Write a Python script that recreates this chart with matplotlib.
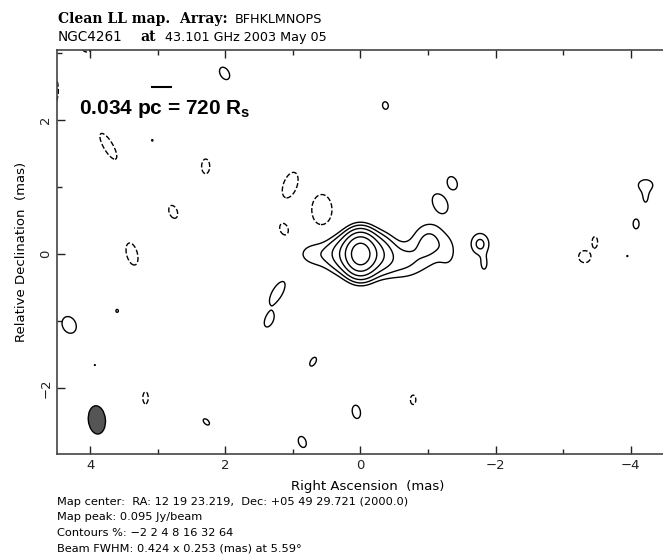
import numpy as np
import matplotlib
matplotlib.use("Agg")
import matplotlib.pyplot as plt
from matplotlib.patches import Ellipse
from matplotlib.ticker import MultipleLocator

plt.rcParams["font.family"] = ["DejaVu Sans"]
plt.rcParams["mathtext.fontset"] = "custom"
plt.rcParams["mathtext.rm"] = "Liberation Sans"
plt.rcParams["mathtext.bf"] = "Liberation Sans:bold"

# source model components (mas, relative flux)
# x = RA offset, y = Dec offset, sx/sy = widths, rot = tilt on the page (deg)
core_x = [0.0, -0.25, 0.25, 0.60, -0.60, -1.02, -1.30]
core_y = [0.0, 0.0, 0.0, 0.0, -0.10, 0.18, 0.02]
core_amp = [1.0, 0.15, 0.10, 0.035, 0.05, 0.05, 0.022]
core_sx = [0.13, 0.15, 0.15, 0.25, 0.25, 0.17, 0.10]
core_sy = [0.17, 0.17, 0.17, 0.15, 0.18, 0.20, 0.18]
core_rot = [0, 0, 0, 0, 0, 0, 0]

# weak positive patches (solid contours)
pos_x = [2.01, -0.37, 3.08, -1.36, -1.18, -1.77, -1.83, -4.22, -4.22, -4.08,
         -3.95, 1.23, 1.35, 0.70, 3.60, 4.31, 3.93, 0.06, 2.28, 0.86]
pos_y = [2.70, 2.22, 1.70, 1.06, 0.76, 0.15, -0.15, 1.03, 0.83, 0.45,
         -0.03, -0.58, -0.99, -1.61, -0.85, -1.06, -1.66, -2.36, -2.51, -2.81]
pos_amp = [0.035, 0.033, 0.024, 0.035, 0.035, 0.05, 0.028, 0.031, 0.024, 0.034,
           0.025, 0.035, 0.034, 0.034, 0.026, 0.035, 0.024, 0.035, 0.033, 0.035]
pos_sx = [0.065, 0.045, 0.02, 0.07, 0.10, 0.10, 0.05, 0.12, 0.05, 0.045,
          0.015, 0.075, 0.06, 0.04, 0.03, 0.10, 0.015, 0.06, 0.035, 0.055]
pos_sy = [0.10, 0.06, 0.025, 0.10, 0.15, 0.12, 0.10, 0.09, 0.10, 0.075,
          0.015, 0.19, 0.11, 0.075, 0.035, 0.13, 0.015, 0.10, 0.06, 0.085]
pos_rot = [30, 10, 0, 20, 30, 0, 0, 0, 0, 0,
           0, -30, -25, -30, 0, 25, 0, 10, 45, 20]

# weak negative patches (dashed contours)
neg_x = [3.73, 2.29, 2.77, 3.38, 1.04, 0.57, 1.13, 3.18, -0.78, -3.32, -3.47, 4.62, 4.05]
neg_y = [1.61, 1.31, 0.63, 0.00, 1.03, 0.66, 0.37, -2.15, -2.18, -0.04, 0.18, 2.45, 3.12]
neg_amp = [-0.035] * 13
neg_sx = [0.07, 0.06, 0.06, 0.08, 0.10, 0.15, 0.06, 0.04, 0.04, 0.09, 0.04, 0.15, 0.08]
neg_sy = [0.22, 0.11, 0.10, 0.17, 0.20, 0.23, 0.09, 0.09, 0.07, 0.09, 0.08, 0.30, 0.10]
neg_rot = [30, 0, 20, 15, -20, 0, 20, 0, 0, 0, 0, 0, 0]

levels = [-2, 2, 4, 8, 16, 32, 64]

beam_major = 0.424
beam_minor = 0.253
beam_pa = 5.59
beam_pos = (3.90, -2.48)

scale_x = [3.08, 2.81]
scale_y = [2.49, 2.49]

xs = np.arange(4.7, -4.9, -0.008)
ys = np.arange(-3.1, 3.2, 0.008)
X, Y = np.meshgrid(xs, ys)
img = np.zeros_like(X)

for cx, cy, a, sx, sy, r in zip(core_x + pos_x + neg_x, core_y + pos_y + neg_y,
                                core_amp + pos_amp + neg_amp,
                                core_sx + pos_sx + neg_sx, core_sy + pos_sy + neg_sy,
                                core_rot + pos_rot + neg_rot):
    t = np.radians(r)
    u = -(X - cx)
    v = Y - cy
    up = u * np.cos(t) + v * np.sin(t)
    vp = -u * np.sin(t) + v * np.cos(t)
    img += a * np.exp(-0.5 * ((up / sx) ** 2 + (vp / sy) ** 2))

img = img / img.max() * 100

fig = plt.figure(figsize=(6.63, 5.56), dpi=100)
# frame runs past the right edge of the image, as in the original
ax = fig.add_axes([57 / 663, 102 / 556, 621 / 663, 404 / 556])

ax.contour(X, Y, img, levels=levels, colors="black", linewidths=1.0,
           linestyles=["--"] + ["-"] * 6)

ax.add_patch(Ellipse(beam_pos, width=beam_minor, height=beam_major, angle=-beam_pa,
                     facecolor="#555555", edgecolor="black", linewidth=1.0))

ax.plot(scale_x, scale_y, color="black", linewidth=1.5)
ax.text(4.16, 2.1, "0.034 pc = 720 R$_\\mathbf{s}$", fontsize=15, fontweight="bold",
        family="Liberation Sans", ha="left", va="baseline")

ax.set_xlim(4.49, -4.70)
ax.set_ylim(-2.99, 3.05)
ax.xaxis.set_major_locator(MultipleLocator(2))
ax.xaxis.set_minor_locator(MultipleLocator(1))
ax.yaxis.set_major_locator(MultipleLocator(2))
ax.yaxis.set_minor_locator(MultipleLocator(1))
ax.tick_params(which="both", direction="in", top=True, right=True, width=1.0,
               labelsize=9.5, colors="#222222")
ax.tick_params(which="major", length=6)
ax.tick_params(which="minor", length=3.5)
for lab in ax.get_yticklabels():
    lab.set_rotation(90)
    lab.set_va("center")
for s in ax.spines.values():
    s.set_color("#444444")
    s.set_linewidth(1.2)

ax.set_xlabel("Right Ascension  (mas)", fontsize=9.5, labelpad=6)
ax.set_ylabel("Relative Declination  (mas)", fontsize=9.5, labelpad=8)

# header lines
fig.text(58 / 663, 1 - 23 / 556, "Clean LL map.  Array:", fontsize=10,
         family="DejaVu Serif", fontweight="bold", va="baseline")
fig.text(235 / 663, 1 - 23 / 556, "BFHKLMNOPS", fontsize=9.2, va="baseline")
fig.text(58 / 663, 1 - 41 / 556, "NGC4261", fontsize=9.8, va="baseline")
fig.text(140 / 663, 1 - 41 / 556, "at", fontsize=10, family="DejaVu Serif",
         fontweight="bold", va="baseline")
fig.text(165 / 663, 1 - 41 / 556, "43.101 GHz 2003 May 05", fontsize=9.2, va="baseline")

footer = ["Map center:  RA: 12 19 23.219,  Dec: +05 49 29.721 (2000.0)",
          "Map peak: 0.095 Jy/beam",
          "Contours %: \u22122 2 4 8 16 32 64",
          "Beam FWHM: 0.424 x 0.253 (mas) at 5.59\u00b0"]
for i, line in enumerate(footer):
    fig.text(57 / 663, 1 - (502 + 15.5 * i) / 556, line, fontsize=8.2, va="center")

fig.savefig("out.png", dpi=100)
